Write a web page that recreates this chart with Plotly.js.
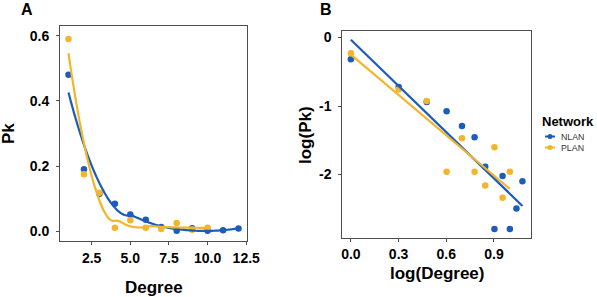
<!DOCTYPE html>
<html>
<head>
<meta charset="utf-8">
<script src="https://cdn.plot.ly/plotly-3.0.1.min.js"></script>
<style>
html,body{margin:0;padding:0;background:#fff;}
#chart{width:597px;height:297px;}
</style>
</head>
<body>
<div id="chart"></div>
<script>
// ---- data ----
const degreeNLAN = [1, 2, 3, 4, 5, 6, 7, 8, 9, 10, 11, 12];
const pkNLAN     = [0.48, 0.19, 0.115, 0.084, 0.051, 0.035, 0.013, 0.0016, 0.0095, 0.0016, 0.0032, 0.008];
const degreePLAN = [1, 2, 3, 4, 5, 6, 7, 8, 9, 10];
const pkPLAN     = [0.59, 0.175, 0.118, 0.011, 0.034, 0.011, 0.0069, 0.025, 0.0046, 0.011];

const seriesNames = ['NLAN', 'PLAN'];
const xTicksA = [2.5, 5, 7.5, 10, 12.5];
const xTickTextA = ['2.5', '5.0', '7.5', '10.0', '12.5'];
const yTicksA = [0, 0.2, 0.4, 0.6];
const yTickTextA = ['0.0', '0.2', '0.4', '0.6'];
const xTicksB = [0, 0.3, 0.6, 0.9];
const xTickTextB = ['0.0', '0.3', '0.6', '0.9'];
const yTicksB = [0, -1, -2];
const yTickTextB = ['0', '-1', '-2'];

// ---- styling ----
const BLUE = '#1c5cbb';
const YELLOW = '#f3b52b';
const AXC = '#4d4d4d';
const FONT = 'Liberation Sans, Arial, sans-serif';
const W = 597, H = 297;
const px = v => v / W;
const py = v => 1 - v / H;

// ---- statistics (computed from the data arrays) ----
function loess(xs, ys, span, xout) {
  const n = xs.length;
  const q = Math.floor(n * span);
  return xout.map(x0 => {
    const d = xs.map(x => Math.abs(x - x0));
    const s = d.slice().sort((a, b) => a - b);
    let h = s[q - 1];
    if (q < n) h = (s[q - 1] + s[q]) / 2;
    const w = d.map(di => { const r = di / h; return r < 1 ? Math.pow(1 - r * r * r, 3) : 0; });
    let S = [[0,0,0],[0,0,0],[0,0,0]], b = [0,0,0];
    for (let i = 0; i < n; i++) {
      const t = xs[i] - x0, v = [1, t, t * t];
      for (let r = 0; r < 3; r++) {
        b[r] += w[i] * v[r] * ys[i];
        for (let c = 0; c < 3; c++) S[r][c] += w[i] * v[r] * v[c];
      }
    }
    const A = S.map((row, i) => row.concat([b[i]]));
    for (let i = 0; i < 3; i++) {
      let p = i;
      for (let k = i + 1; k < 3; k++) if (Math.abs(A[k][i]) > Math.abs(A[p][i])) p = k;
      [A[i], A[p]] = [A[p], A[i]];
      for (let k = i + 1; k < 3; k++) {
        const f = A[k][i] / A[i][i];
        for (let c = i; c < 4; c++) A[k][c] -= f * A[i][c];
      }
    }
    const sol = [0,0,0];
    for (let i = 2; i >= 0; i--) {
      let sum = A[i][3];
      for (let c = i + 1; c < 3; c++) sum -= A[i][c] * sol[c];
      sol[i] = sum / A[i][i];
    }
    return sol[0];
  });
}
function seq(a, b, n) { const o = []; for (let i = 0; i < n; i++) o.push(a + (b - a) * i / (n - 1)); return o; }
function linfit(xs, ys) {
  const n = xs.length;
  const mx = xs.reduce((a, b) => a + b, 0) / n, my = ys.reduce((a, b) => a + b, 0) / n;
  let sxy = 0, sxx = 0;
  for (let i = 0; i < n; i++) { sxy += (xs[i] - mx) * (ys[i] - my); sxx += (xs[i] - mx) ** 2; }
  const slope = sxy / sxx; return { slope, intercept: my - slope * mx };
}

const gridN = seq(Math.min(...degreeNLAN), Math.max(...degreeNLAN), 80);
const gridP = seq(Math.min(...degreePLAN), Math.max(...degreePLAN), 80);
const smoothN = loess(degreeNLAN, pkNLAN, 0.75, gridN);
const smoothP = loess(degreePLAN, pkPLAN, 0.75, gridP);

const logDegN = degreeNLAN.map(Math.log10), logPkN = pkNLAN.map(Math.log10);
const logDegP = degreePLAN.map(Math.log10), logPkP = pkPLAN.map(Math.log10);
const fitN = linfit(logDegN, logPkN), fitP = linfit(logDegP, logPkP);
const lxN = [Math.min(...logDegN), Math.max(...logDegN)];
const lxP = [Math.min(...logDegP), Math.max(...logDegP)];

const mk = c => ({ color: c, size: 6.5 });
const ln = c => ({ color: c, width: 2.2, shape: 'spline', smoothing: 0.6 });

const traces = [
  { x: degreeNLAN, y: pkNLAN, mode: 'markers', marker: mk(BLUE), xaxis: 'x', yaxis: 'y', name: seriesNames[0], showlegend: false },
  { x: degreePLAN, y: pkPLAN, mode: 'markers', marker: mk(YELLOW), xaxis: 'x', yaxis: 'y', name: seriesNames[1], showlegend: false },
  { x: gridN, y: smoothN, mode: 'lines', line: ln(BLUE), xaxis: 'x', yaxis: 'y', showlegend: false },
  { x: gridP, y: smoothP, mode: 'lines', line: ln(YELLOW), xaxis: 'x', yaxis: 'y', showlegend: false },
  { x: logDegN, y: logPkN, mode: 'markers', marker: mk(BLUE), xaxis: 'x2', yaxis: 'y2', showlegend: false },
  { x: logDegP, y: logPkP, mode: 'markers', marker: mk(YELLOW), xaxis: 'x2', yaxis: 'y2', showlegend: false },
  { x: lxN, y: lxN.map(v => fitN.intercept + fitN.slope * v), mode: 'lines', line: { color: BLUE, width: 2.2 }, xaxis: 'x2', yaxis: 'y2', showlegend: false },
  { x: lxP, y: lxP.map(v => fitP.intercept + fitP.slope * v), mode: 'lines', line: { color: YELLOW, width: 2.2 }, xaxis: 'x2', yaxis: 'y2', showlegend: false }
];

const tickFont = { family: FONT, size: 14, color: '#000', weight: 'bold' };
const axBase = {
  showgrid: false, zeroline: false, showline: true, mirror: true,
  linecolor: AXC, linewidth: 1, ticks: 'outside', ticklen: 3, tickwidth: 1,
  tickcolor: AXC, tickfont: tickFont, tickmode: 'array', fixedrange: true
};

const ann = (text, x, y, opts) => Object.assign({
  text, x: px(x), y: py(y), xref: 'paper', yref: 'paper', showarrow: false,
  xanchor: 'center', yanchor: 'middle',
  font: { family: FONT, size: 17, color: '#000', weight: 'bold' }
}, opts || {});

const legendRows = [
  { name: seriesNames[0], color: BLUE, y: 136.5 },
  { name: seriesNames[1], color: YELLOW, y: 147.5 }
];

const annotations = [
  ann('A', 27, 10, { font: { family: FONT, size: 16, color: '#000', weight: 'bold' } }),
  ann('B', 326, 10, { font: { family: FONT, size: 16, color: '#000', weight: 'bold' } }),
  ann('Degree', 153.5, 287),
  ann('log(Degree)', 436.5, 273),
  ann('Pk', 9, 134, { textangle: -90 }),
  ann('log(Pk)', 305, 135, { textangle: -90 }),
  ann('Network', 540, 121, { xanchor: 'left', font: { family: FONT, size: 13, color: '#000', weight: 'bold' } })
].concat(legendRows.map(r => ann(r.name, 559.5, r.y, { xanchor: 'left', borderpad: 0, font: { family: FONT, size: 8.8, color: '#333' } })));

const shapes = [];
legendRows.forEach(r => {
  shapes.push({ type: 'line', xref: 'paper', yref: 'paper', x0: px(545), x1: px(555), y0: py(r.y), y1: py(r.y), line: { color: r.color, width: 2 } });
  shapes.push({ type: 'circle', xref: 'paper', yref: 'paper', xsizemode: 'pixel', ysizemode: 'pixel',
    xanchor: px(550), yanchor: py(r.y), x0: -2.5, x1: 2.5, y0: -2.5, y1: 2.5,
    fillcolor: r.color, line: { width: 0 } });
});

const layout = {
  width: W, height: H,
  margin: { l: 0, r: 0, t: 0, b: 0 },
  paper_bgcolor: '#fff', plot_bgcolor: '#fff',
  showlegend: false,
  xaxis: Object.assign({}, axBase, { domain: [px(60), px(247)], range: [0.45, 12.55], tickvals: xTicksA, ticktext: xTickTextA, anchor: 'y', ticklabelstandoff: 1 }),
  yaxis: Object.assign({}, axBase, { domain: [py(241), py(26)], range: [-0.03, 0.63], tickvals: yTicksA, ticktext: yTickTextA, anchor: 'x', ticklabelstandoff: 4 }),
  xaxis2: Object.assign({}, axBase, { domain: [px(342.3), px(531)], range: [-0.054, 1.133], tickvals: xTicksB, ticktext: xTickTextB, anchor: 'y2', ticklabelstandoff: 0 }),
  yaxis2: Object.assign({}, axBase, { domain: [py(238.3), py(31)], range: [-2.93, 0.095], tickvals: yTicksB, ticktext: yTickTextB, anchor: 'x2', ticklabelstandoff: 4 }),
  annotations, shapes
};

Plotly.newPlot('chart', traces, layout, { displayModeBar: false, staticPlot: true });
</script>
</body>
</html>
